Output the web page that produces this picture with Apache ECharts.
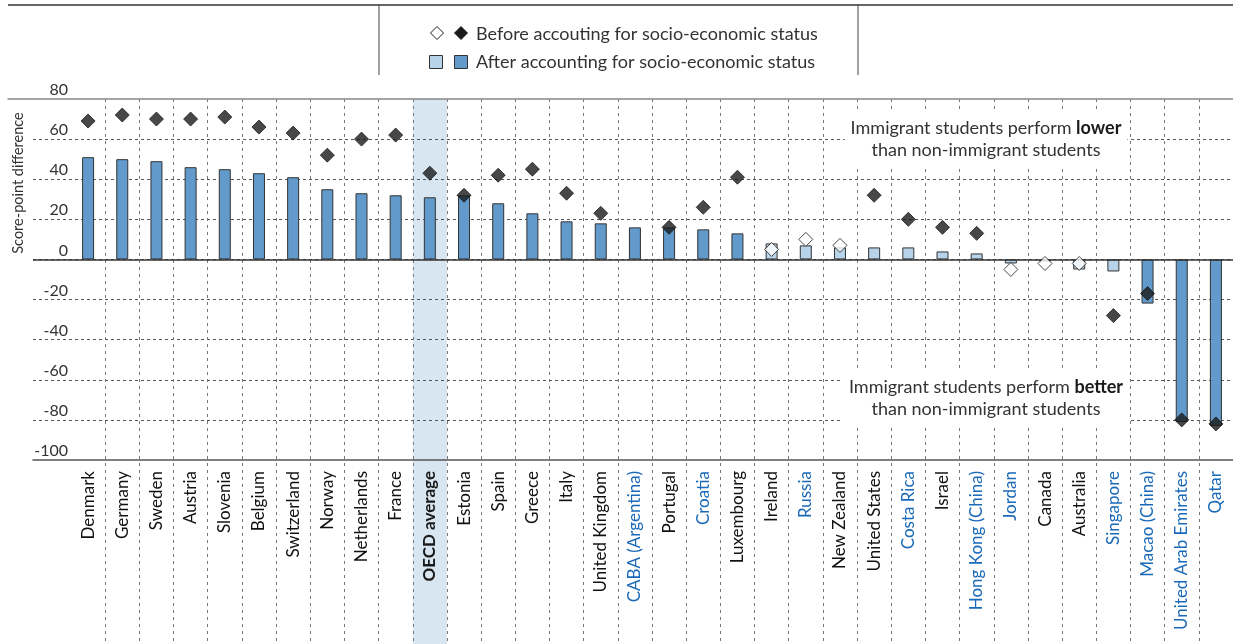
<!DOCTYPE html>
<html><head><meta charset="utf-8">
<script src="https://cdn.jsdelivr.net/npm/echarts@6/dist/echarts.min.js"></script>
<style>html,body{margin:0;padding:0;background:#fff}#c{width:1233px;height:644px}</style>
</head><body><div id="c"></div>
<script>
// ---- data ----
const categories = ['Denmark','Germany','Sweden','Austria','Slovenia','Belgium','Switzerland','Norway','Netherlands','France','OECD average','Estonia','Spain','Greece','Italy','United Kingdom','CABA (Argentina)','Portugal','Croatia','Luxembourg','Ireland','Russia','New Zealand','United States','Costa Rica','Israel','Hong Kong (China)','Jordan','Canada','Australia','Singapore','Macao (China)','United Arab Emirates','Qatar'];
const partners = ['CABA (Argentina)','Croatia','Russia','Costa Rica','Hong Kong (China)','Jordan','Singapore','Macao (China)','United Arab Emirates','Qatar'];
const averageCategory = 'OECD average';
const afterValues = [51,50,49,46,45,43,41,35,33,32,31,32,28,23,19,18,16,16,15,13,8,7,6,6,6,4,3,-2,-1,-5,-6,-22,-81,-83];
const afterSignificant = [1,1,1,1,1,1,1,1,1,1,1,1,1,1,1,1,1,1,1,1,0,0,0,0,0,0,0,0,0,0,0,1,1,1];
const beforeValues = [69,72,70,70,71,66,63,52,60,62,43,32,42,45,33,23,null,16,26,41,5,10,7,32,20,16,13,-5,-2,-2,-28,-17,-80,-82];
const beforeSignificant = [1,1,1,1,1,1,1,1,1,1,1,1,1,1,1,1,0,1,1,1,0,0,0,1,1,1,1,0,0,0,1,1,1,1];
const yMin = -100, yMax = 80, yInterval = 20;
const legendBefore = 'Before accouting for socio-economic status';
const legendAfter = 'After accounting for socio-economic status';
const yTitle = 'Score-point difference';
const noteLower = 'Immigrant students perform {b|lower}\nthan non-immigrant students';
const noteBetter = 'Immigrant students perform {b|better}\nthan non-immigrant students';

// ---- styles ----
const FONT = 'Lato, "Open Sans", sans-serif';
const DARK = '#629bcb', LIGHT = '#b7d3ea', BAND = '#d8e6f2', INK = '#1a1a1a', BLUE = '#1b6ab8';
const TOP = 99, BOTTOM = 184;

const chart = echarts.init(document.getElementById('c'), null, {renderer: 'canvas'});

const hidden = {show: false};
const option = {
  animation: false,
  grid: [
    {left: 33, right: 0, top: TOP, bottom: BOTTOM},      // 0: horizontal grid lines
    {left: 71, right: 0, top: TOP, bottom: BOTTOM},      // 1: bars & diamonds
    {left: 71, right: 0, top: TOP, bottom: 0},           // 2: vertical lines & band
    {left: 8, right: 0, top: TOP, bottom: BOTTOM}        // 3: top frame
  ],
  xAxis: [
    {gridIndex: 0, type: 'value', min: 0, max: 1, position: 'bottom',
     axisLine: {show: true, onZero: false, lineStyle: {color: '#555', width: 1.5}},
     axisTick: hidden, axisLabel: hidden, splitLine: hidden},
    {gridIndex: 1, type: 'category', data: categories, position: 'bottom',
     axisLine: hidden, axisTick: hidden, splitLine: hidden,
     axisLabel: {interval: 0, rotate: 90, margin: 11,
       formatter: function (v) {
         if (v === averageCategory) return '{b|' + v + '}';
         if (partners.indexOf(v) >= 0) return '{p|' + v + '}';
         return '{c|' + v + '}';
       },
       rich: {
         b: {fontFamily: FONT, fontSize: 17, fontWeight: 'bold', color: INK},
         p: {fontFamily: FONT, fontSize: 17, color: BLUE},
         c: {fontFamily: FONT, fontSize: 17, color: '#111'}
       }}, z: 3},
    {gridIndex: 2, type: 'category', data: categories,
     axisLine: hidden, axisTick: hidden, axisLabel: {show: false, interval: 0},
     splitLine: {show: true, interval: 0, showMinLine: false, showMaxLine: false,
       lineStyle: {type: [3, 4], color: '#777', width: 1}}},
    {gridIndex: 3, type: 'value', min: 0, max: 1, position: 'top',
     axisLine: {show: true, onZero: false, lineStyle: {color: '#888', width: 1.5}},
     axisTick: hidden, axisLabel: hidden, splitLine: hidden}
  ],
  yAxis: [
    {gridIndex: 0, type: 'value', min: yMin, max: yMax, interval: yInterval,
     axisLine: hidden, axisTick: hidden,
     axisLabel: {inside: true, margin: 35, align: 'right', verticalAlign: 'bottom',
       padding: [0, 0, 1, 0], fontFamily: FONT, fontSize: 16, color: '#333'},
     splitLine: {show: true, showMinLine: false, showMaxLine: false,
       lineStyle: {type: [3, 3], color: '#555', width: 1}}},
    {gridIndex: 1, type: 'value', min: yMin, max: yMax, interval: yInterval, show: false},
    {gridIndex: 2, type: 'value', min: 0, max: 1, show: false},
    {gridIndex: 3, type: 'value', min: 0, max: 1, show: false}
  ],
  series: [
    {type: 'bar', xAxisIndex: 2, yAxisIndex: 2, barWidth: '100%', silent: true, z: -1,
     itemStyle: {color: BAND},
     data: categories.map(c => c === averageCategory ? 1 : '-')},
    {type: 'line', xAxisIndex: 0, yAxisIndex: 0, data: [], silent: true,
     markLine: {silent: true, symbol: 'none', label: {show: false},
       lineStyle: {color: '#333', width: 1.5, type: 'solid'}, data: [{yAxis: 0}]}},
    {name: legendAfter, type: 'bar', xAxisIndex: 1, yAxisIndex: 1, barWidth: 12, z: 2,
     itemStyle: {borderColor: '#333', borderWidth: 1},
     data: afterValues.map((v, i) => ({value: v, itemStyle: {color: afterSignificant[i] ? DARK : LIGHT}}))},
    {name: legendBefore, type: 'scatter', xAxisIndex: 1, yAxisIndex: 1, symbol: 'diamond', symbolSize: [14, 14], z: 10,
     data: beforeValues.map((v, i) => v == null ? '-' : ({value: v,
       itemStyle: {color: beforeSignificant[i] ? INK : '#fff', borderColor: INK, borderWidth: 1}}))}
  ],
  graphic: [
    {type: 'line', shape: {x1: 8, y1: 5, x2: 1233, y2: 5}, style: {stroke: '#333', lineWidth: 1.5}},
    {type: 'line', shape: {x1: 379, y1: 5, x2: 379, y2: 75}, style: {stroke: '#444', lineWidth: 1}},
    {type: 'line', shape: {x1: 858, y1: 5, x2: 858, y2: 75}, style: {stroke: '#444', lineWidth: 1}},
    {type: 'polygon', shape: {points: [[437, 26.5], [443.5, 33], [437, 39.5], [430.5, 33]]}, style: {fill: '#fff', stroke: INK, lineWidth: 1}},
    {type: 'polygon', shape: {points: [[461, 26.5], [467.5, 33], [461, 39.5], [454.5, 33]]}, style: {fill: INK, stroke: INK, lineWidth: 1}},
    {type: 'rect', shape: {x: 429.5, y: 55.5, width: 13, height: 13}, style: {fill: LIGHT, stroke: '#333', lineWidth: 1}},
    {type: 'rect', shape: {x: 454.5, y: 55.5, width: 13, height: 13}, style: {fill: DARK, stroke: '#333', lineWidth: 1}},
    {type: 'text', x: 476, y: 34, style: {text: legendBefore, fontFamily: FONT, fontSize: 18, fill: '#333', verticalAlign: 'middle'}},
    {type: 'text', x: 476, y: 62, style: {text: legendAfter, fontFamily: FONT, fontSize: 18, fill: '#333', verticalAlign: 'middle'}},
    {type: 'text', x: 18, y: 183, rotation: Math.PI / 2,
     style: {text: yTitle, fontFamily: FONT, fontSize: 14.5, fill: '#333', align: 'center', verticalAlign: 'middle'}},
    {type: 'text', x: 986, y: 139, z: 50,
     style: {text: noteLower, fontFamily: FONT, fontSize: 18, fill: '#333', align: 'center', verticalAlign: 'middle',
       lineHeight: 22, backgroundColor: '#fff', padding: [4, 6],
       rich: {b: {fontFamily: FONT, fontSize: 18, fontWeight: 'bold', fill: INK, lineHeight: 22}}}},
    {type: 'text', x: 986, y: 398, z: 50,
     style: {text: noteBetter, fontFamily: FONT, fontSize: 18, fill: '#333', align: 'center', verticalAlign: 'middle',
       lineHeight: 22, backgroundColor: '#fff', padding: [4, 6],
       rich: {b: {fontFamily: FONT, fontSize: 18, fontWeight: 'bold', fill: INK, lineHeight: 22}}}}
  ]
};
chart.setOption(option);
</script>
</body></html>
